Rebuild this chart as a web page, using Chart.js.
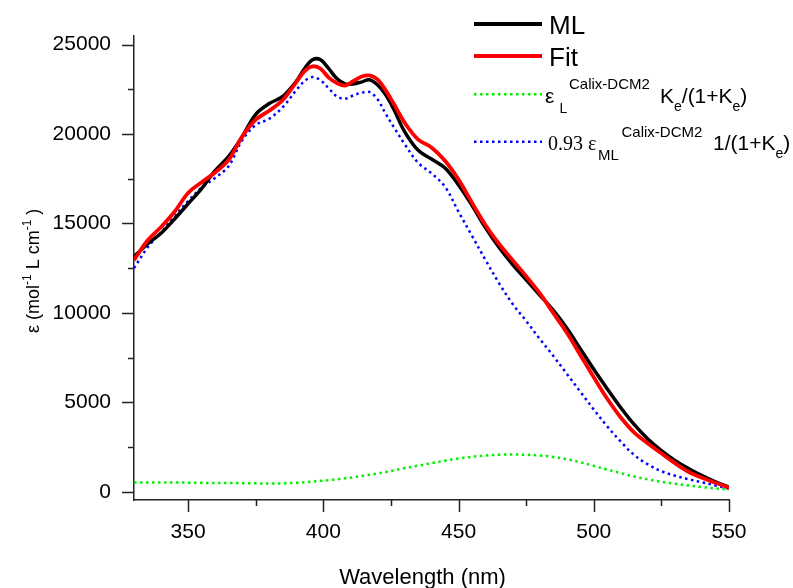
<!DOCTYPE html>
<html><head><meta charset="utf-8">
<script src="https://cdn.jsdelivr.net/npm/chart.js@4.4.0/dist/chart.umd.min.js"></script>
<style>html,body{margin:0;padding:0;background:#fff;}canvas{display:block;}</style>
</head><body>
<canvas id="c" width="793" height="588"></canvas>
<script>
// ---- data ----
const wavelengths = [330,335,340,345,350,355,360,365,370,375,380,385,390,393,396,399,402,405,408,411,414,417,420,423,426,430,435,440,445,450,455,460,465,470,475,480,485,490,495,500,505,510,515,520,525,530,535,540,545,550];
const mlValues = [13150,13850,14450,15250,16100,16950,17950,18750,19850,21100,21700,22100,22950,23650,24150,24150,23650,23100,22800,22800,22900,23030,22750,22200,21400,20150,19100,18600,18100,17150,16000,14750,13650,12700,11850,11000,10150,9150,8000,6850,5750,4700,3750,2950,2300,1750,1300,900,550,250];
const fitValues = [12950,14050,14800,15650,16700,17300,17850,18550,19850,20800,21300,21900,22900,23500,23780,23650,23150,22850,22700,22950,23200,23270,23050,22450,21700,20650,19700,19250,18500,17450,16150,14900,13850,12950,12050,11100,10000,8900,7650,6400,5200,4150,3300,2700,2150,1600,1120,780,500,230];
const ligandTerm = [520,520,520,515,510,500,490,490,480,470,460,470,500,530,570,610,650,700,750,810,880,950,1020,1100,1190,1320,1460,1600,1740,1860,1960,2030,2070,2080,2070,2030,1950,1820,1650,1450,1240,1040,850,690,560,450,350,260,190,120];
const complexTerm = [12500,13650,14500,15400,16250,17000,17550,18200,19650,20500,20850,21500,22450,22950,23180,23000,22550,22100,21970,22150,22300,22350,21950,21150,20400,19450,18400,17800,17050,15650,14300,12950,11650,10500,9550,8550,7600,6600,5600,4600,3650,2800,2050,1530,1150,900,700,530,350,170];
const seriesNames = ['ML', 'Fit', 'εL Ke/(1+Ke)', '0.93 εML 1/(1+Ke)'];
const xTickValues = [350,400,450,500,550];
const xMinorTickValues = [375,425,475,525];
const yTickValues = [0,5000,10000,15000,20000,25000];
const yMinorTickValues = [2500,7500,12500,17500,22500];
const xTitle = 'Wavelength (nm)';

const SANS = '"Liberation Sans", Arial, sans-serif';
const SERIF = '"Liberation Serif", "Times New Roman", serif';

function pts(vals){ return wavelengths.map((x,i)=>({x:x,y:vals[i]})); }

function drawRich(ctx, x, y, parts){
  for (const p of parts){
    ctx.font = (p.size) + 'px ' + (p.family || SANS);
    if (p.x !== undefined) x = p.x;
    ctx.fillText(p.t, x, y + (p.dy||0));
    x += ctx.measureText(p.t).width;
  }
  return x;
}

const decorPlugin = {
  id: 'decor',
  afterDraw(chart){
    const ctx = chart.ctx;
    const xs = chart.scales.x, ys = chart.scales.y;
    const ca = chart.chartArea;
    ctx.save();
    // tick marks
    ctx.strokeStyle = '#222';
    ctx.lineWidth = 1.5;
    ctx.beginPath();
    xTickValues.forEach(v=>{const px=Math.round(xs.getPixelForValue(v))+0.5; ctx.moveTo(px,ca.bottom); ctx.lineTo(px,ca.bottom+12);});
    xMinorTickValues.forEach(v=>{const px=Math.round(xs.getPixelForValue(v))+0.5; ctx.moveTo(px,ca.bottom); ctx.lineTo(px,ca.bottom+6);});
    yTickValues.forEach(v=>{const py=Math.round(ys.getPixelForValue(v))+0.5; ctx.moveTo(ca.left,py); ctx.lineTo(ca.left-12,py);});
    yMinorTickValues.forEach(v=>{const py=Math.round(ys.getPixelForValue(v))+0.5; ctx.moveTo(ca.left,py); ctx.lineTo(ca.left-6,py);});
    ctx.stroke();

    ctx.fillStyle = '#000';
    ctx.textBaseline = 'alphabetic';
    ctx.textAlign = 'left';
    // x title
    ctx.font = '22px ' + SANS;
    const w = ctx.measureText(xTitle).width;
    ctx.fillText(xTitle, 422.5 - w/2, 584);
    // y title (rotated)
    ctx.save();
    ctx.translate(39, 333);
    ctx.rotate(-Math.PI/2);
    drawRich(ctx, 0, 0, [
      {t:'ε (mol', size:18},
      {t:'-1', size:12, dy:-8},
      {t:' L cm', size:18},
      {t:'-1', size:12, dy:-8},
      {t:' )', size:18}
    ]);
    ctx.restore();

    // legend
    const ds = chart.data.datasets;
    const rows = [24, 56, 94.3, 141.7];
    const order = [0,1,2,3];
    order.forEach((di,r)=>{
      const d = ds[di];
      ctx.save();
      ctx.strokeStyle = d.borderColor;
      ctx.lineWidth = d.legendWidth;
      ctx.setLineDash(d.borderDash || []);
      ctx.beginPath();
      ctx.moveTo(474, rows[r]);
      ctx.lineTo(542, rows[r]);
      ctx.stroke();
      ctx.restore();
    });
    ctx.fillStyle = '#000';
    ctx.font = '26px ' + SANS;
    ctx.fillText(seriesNames[0], 549, 34);
    ctx.fillText(seriesNames[1], 549, 65.7);
    drawRich(ctx, 545, 103.3, [
      {t:'ε', size:21},
      {t:'L', size:14, dy:10, x:559.5},
      {t:'Calix-DCM2', size:15, dy:-14, x:569},
      {t:'K', size:21, x:660},
      {t:'e', size:14, dy:8},
      {t:'/(1+K', size:21},
      {t:'e', size:14, dy:8},
      {t:')', size:21}
    ]);
    drawRich(ctx, 548, 149.5, [
      {t:'0.93 ε', size:20, family:SERIF},
      {t:'ML', size:15, dy:10, x:598},
      {t:'Calix-DCM2', size:15, dy:-13, x:621.5},
      {t:'1/(1+K', size:21, x:713},
      {t:'e', size:14, dy:8},
      {t:')', size:21}
    ]);
    ctx.restore();
  }
};

new Chart(document.getElementById('c'), {
  type: 'line',
  data: {
    datasets: [
      {label: seriesNames[0], data: pts(mlValues), borderColor:'#000000', borderWidth:3.5, legendWidth:4, order:1},
      {label: seriesNames[1], data: pts(fitValues), borderColor:'#ff0000', borderWidth:3.8, legendWidth:4, order:0},
      {label: seriesNames[2], data: pts(ligandTerm), borderColor:'#00ee00', borderWidth:2.5, legendWidth:2.5, borderDash:[2.5,3.5], order:3},
      {label: seriesNames[3], data: pts(complexTerm), borderColor:'#0000ff', borderWidth:2.5, legendWidth:2.5, borderDash:[2.5,3.5], order:2}
    ]
  },
  options: {
    responsive:false, animation:false, devicePixelRatio:1,
    parsing:true,
    elements:{ point:{radius:0}, line:{tension:0.35, fill:false, borderCapStyle:'butt'} },
    layout:{ padding:{left:0, top:33, right:64, bottom:0} },
    plugins:{ legend:{display:false}, tooltip:{enabled:false}, title:{display:false} },
    scales:{
      x:{
        type:'linear', min:330, max:550,
        afterFit(s){ s.height = 88; },
        afterBuildTicks(s){ s.ticks = xTickValues.map(v=>({value:v})); },
        grid:{display:true, drawOnChartArea:false, drawTicks:false},
        border:{display:true, color:'#222', width:1.5},
        ticks:{padding:20, color:'#000', font:{family:SANS, size:21}, maxRotation:0, callback:(v)=>String(v)}
      },
      y:{
        type:'linear', min:-460, max:25500,
        afterFit(s){ s.width = 134; },
        afterBuildTicks(s){ s.ticks = yTickValues.map(v=>({value:v})); },
        grid:{display:true, drawOnChartArea:false, drawTicks:false},
        border:{display:true, color:'#222', width:1.5},
        ticks:{padding:23, color:'#000', font:{family:SANS, size:21}, callback:(v)=>String(v)}
      }
    }
  },
  plugins:[decorPlugin]
});
</script>
</body></html>
